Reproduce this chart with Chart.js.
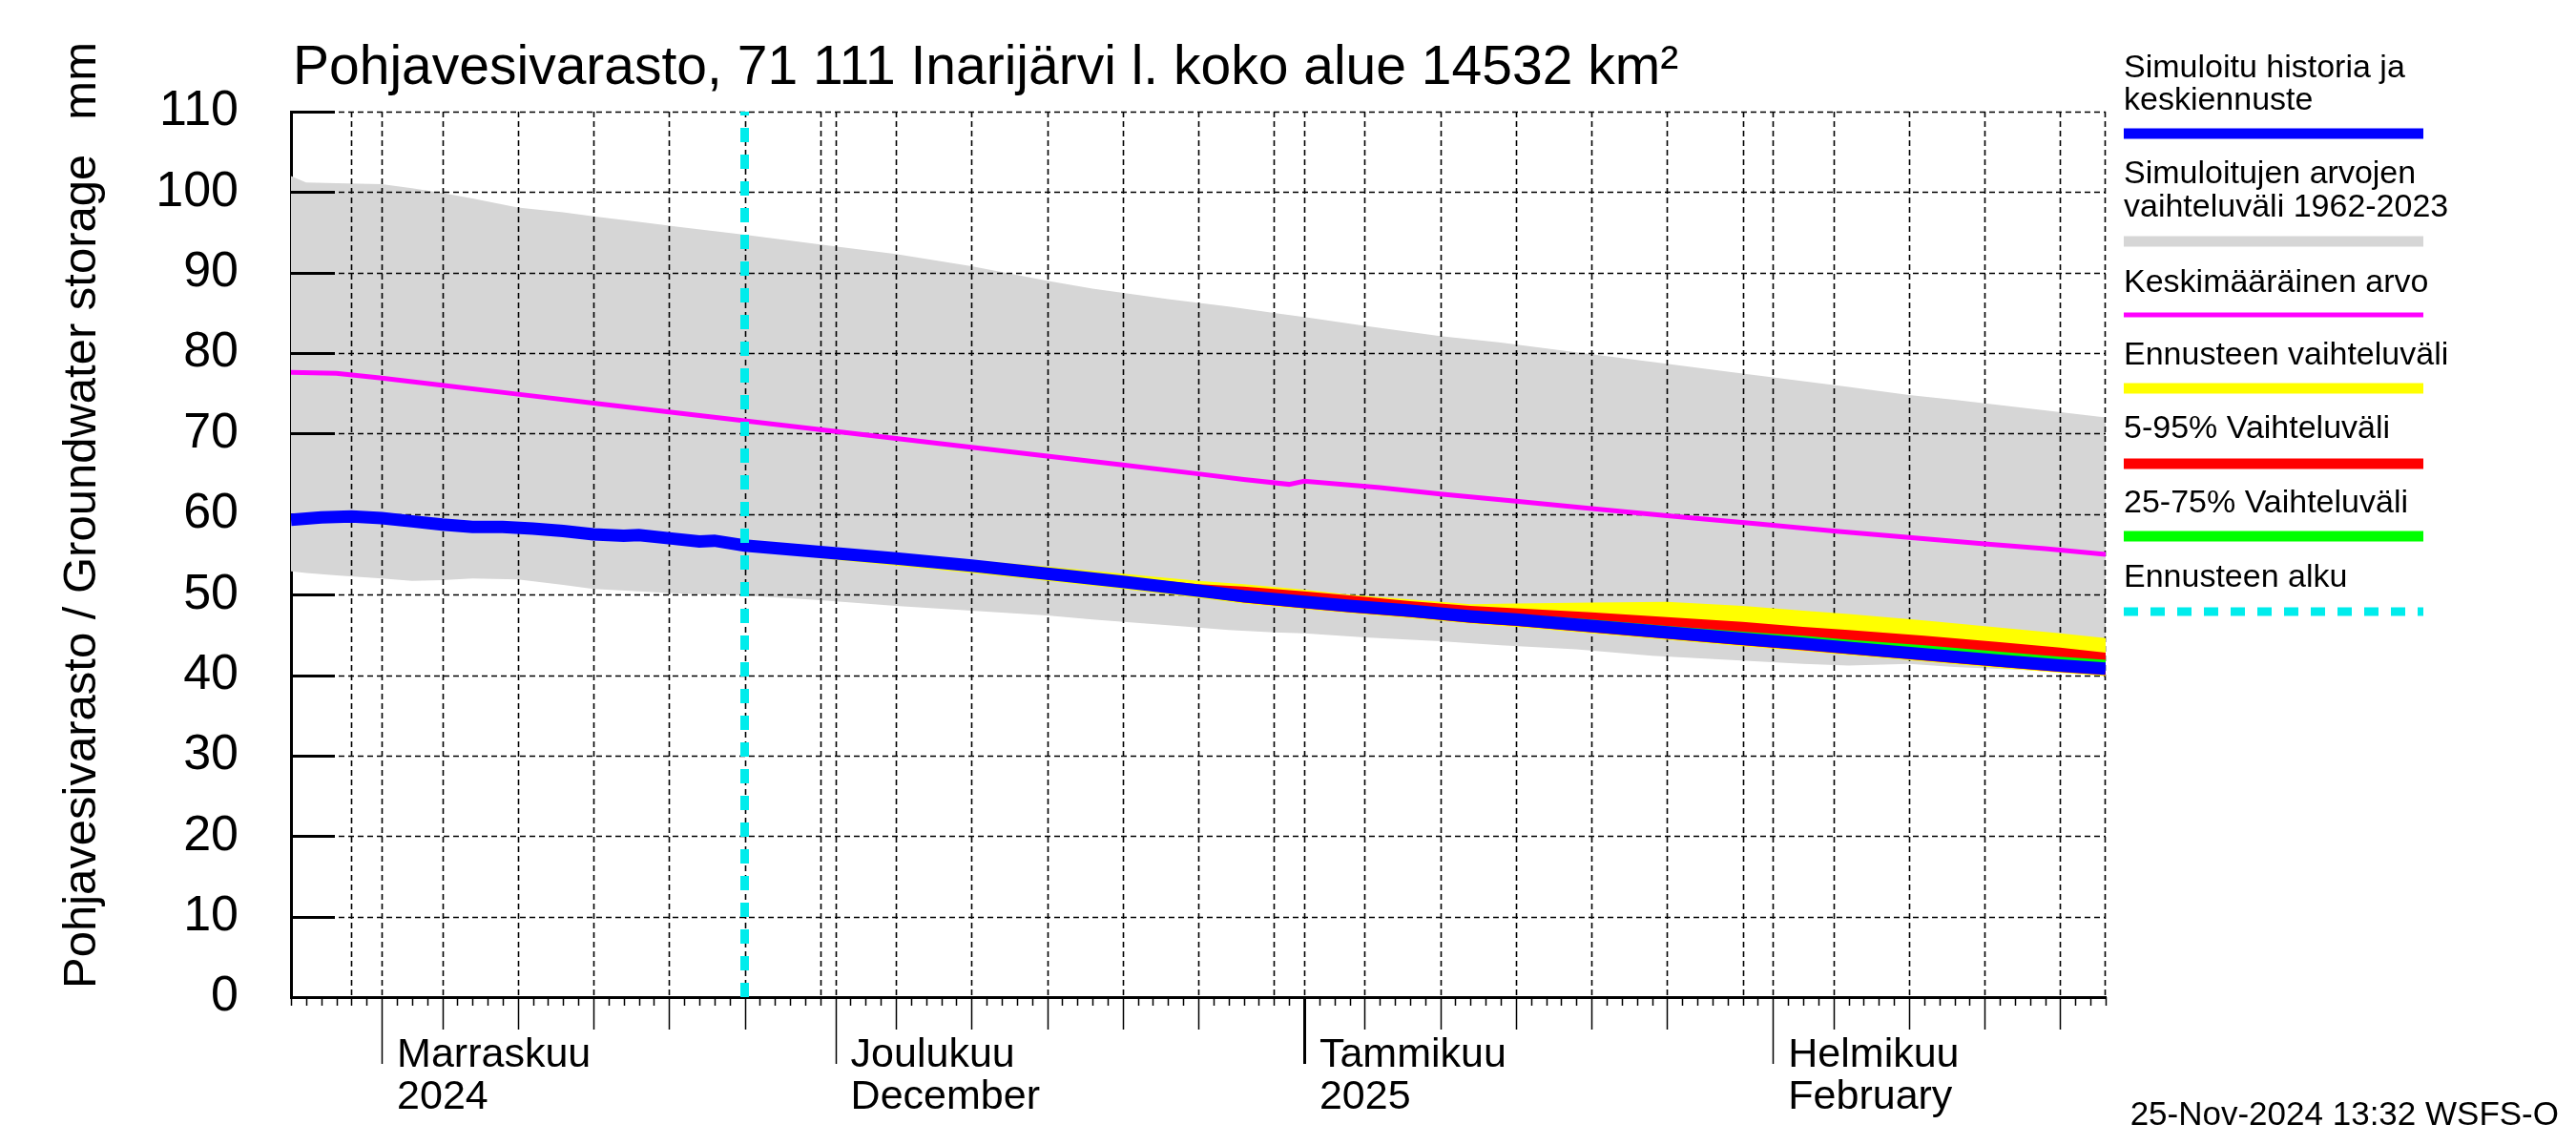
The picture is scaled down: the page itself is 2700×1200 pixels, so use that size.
<!DOCTYPE html>
<html>
<head>
<meta charset="utf-8">
<script src="https://cdn.jsdelivr.net/npm/chart.js@4.4.1/dist/chart.umd.min.js"></script>
<style>
    html, body { margin: 0; padding: 0; background: #ffffff; }
</style>
</head>
<body>
<canvas id="gwChart" width="2700" height="1200"></canvas>
<script>
// day 0 = 26 Oct 2024, day 120 = 23 Feb 2025
const forecastStart = 30;   // 25 Nov 2024
const yMin = 0;
const yMax = 110;
const dayMax = 120;

// simulated range 1962-2023 (grey band)
const rangeDays = [0, 1, 3, 6, 8, 10, 12, 15, 18, 20, 23, 26, 30, 35, 40, 45, 50, 53, 58, 62, 65, 67, 71, 76, 80, 85, 90, 95, 100, 103, 107, 110, 115, 120];
const rangeMax = [102.0, 101.2, 101.1, 101.0, 100.5, 99.9, 99.2, 98.1, 97.5, 97.0, 96.3, 95.6, 94.7, 93.5, 92.3, 90.8, 89.0, 88.0, 86.7, 85.8, 85.0, 84.5, 83.4, 82.1, 81.3, 80.1, 78.9, 77.7, 76.5, 75.8, 74.8, 74.2, 73.1, 72.0];
const rangeMin = [52.9, 52.7, 52.4, 52.0, 51.7, 51.8, 52.0, 51.9, 51.2, 50.7, 50.4, 50.1, 49.9, 49.3, 48.6, 48.0, 47.4, 46.9, 46.2, 45.6, 45.3, 45.2, 44.7, 44.2, 43.7, 43.2, 42.4, 41.9, 41.4, 41.2, 41.4, 41.0, 40.6, 40.0];

// mean value
const meanDays = [0, 3, 6, 10, 15, 20, 25, 30, 35, 40, 45, 50, 55, 60, 63, 66, 67, 72, 76, 81, 86, 91, 97, 102, 107, 112, 116, 120];
const meanValues = [77.6, 77.5, 76.9, 76.0, 74.9, 73.8, 72.7, 71.6, 70.5, 69.4, 68.3, 67.2, 66.1, 65.0, 64.3, 63.7, 64.1, 63.3, 62.5, 61.6, 60.7, 59.8, 58.8, 57.9, 57.1, 56.3, 55.7, 55.0];

// simulated history + median forecast
const simDays = [0, 2, 4, 6, 8, 10, 12, 14, 16, 18, 20, 22, 23, 25, 27, 28, 30, 35, 40, 45, 50, 55, 60, 63, 67, 70, 74, 78, 81, 86, 91, 96, 100, 103, 108, 113, 117, 120];
const simValues = [59.3, 59.6, 59.7, 59.5, 59.1, 58.7, 58.4, 58.4, 58.2, 57.9, 57.5, 57.3, 57.4, 57.0, 56.6, 56.7, 56.1, 55.3, 54.5, 53.6, 52.6, 51.6, 50.5, 49.8, 49.1, 48.6, 48.0, 47.3, 46.9, 46.1, 45.3, 44.5, 43.9, 43.4, 42.6, 41.8, 41.2, 40.8];

// forecast ranges
const fcDays = [30, 35, 40, 45, 50, 55, 60, 63, 67, 70, 74, 78, 81, 86, 91, 96, 100, 103, 108, 113, 117, 120];
const fcMax = [56.1, 55.6, 55.0, 54.3, 53.5, 52.6, 51.7, 51.3, 50.6, 50.0, 49.4, 48.8, 48.9, 49.0, 49.1, 48.6, 48.0, 47.6, 46.8, 45.9, 45.2, 44.6];
const fcMin = [56.1, 54.5, 53.6, 52.7, 51.7, 50.7, 49.6, 48.9, 48.2, 47.7, 47.1, 46.4, 46.0, 45.2, 44.4, 43.6, 43.0, 42.5, 41.7, 40.9, 40.3, 39.9];
const p95 = [56.1, 55.5, 54.8, 54.0, 53.1, 52.2, 51.3, 51.0, 50.4, 49.9, 49.2, 48.6, 48.3, 47.8, 47.2, 46.6, 46.0, 45.6, 44.9, 44.1, 43.4, 42.8];
const p5 = [56.1, 54.7, 53.8, 52.9, 51.9, 50.9, 49.8, 49.0, 48.3, 47.8, 47.2, 46.5, 46.1, 45.3, 44.5, 43.7, 43.1, 42.6, 41.8, 41.0, 40.4, 40.0];
const p75 = [56.1, 55.5, 54.8, 54.0, 53.0, 52.1, 51.0, 50.4, 49.7, 49.2, 48.6, 48.0, 47.6, 46.9, 46.1, 45.4, 44.9, 44.4, 43.7, 42.9, 42.3, 41.9];
const p25 = [56.1, 55.0, 54.2, 53.3, 52.3, 51.3, 50.2, 49.5, 48.8, 48.3, 47.7, 47.0, 46.6, 45.8, 45.0, 44.2, 43.6, 43.1, 42.3, 41.5, 40.9, 40.5];

// x axis: grid days, 5-day ticks, month starts
const gridDays = [4, 6, 10, 15, 20, 25, 30, 35, 36, 40, 45, 50, 55, 60, 65, 67, 71, 76, 81, 86, 91, 96, 98, 102, 107, 112, 117];
const fiveDayTicks = [10, 15, 20, 25, 30, 40, 45, 50, 55, 60, 71, 76, 81, 86, 91, 102, 107, 112, 117];
const monthStarts = [6, 36, 67, 98];
const yearStart = 67;
const monthLabels = [['Marraskuu', '2024'], ['Joulukuu', 'December'], ['Tammikuu', '2025'], ['Helmikuu', 'February']];

const titleText = 'Pohjavesivarasto, 71 111 Inarijärvi l. koko alue 14532 km²';
const yTitleText = 'Pohjavesivarasto / Groundwater storage';
const yUnitText = 'mm';
const footerText = '25-Nov-2024 13:32 WSFS-O';

const FONT = '"Liberation Sans", Arial, Helvetica, sans-serif';
const GREY = '#d6d6d6';
const CYAN = '#00ecec';
const NONE = 'rgba(0,0,0,0)';

const legendItems = [
    { lines: ['Simuloitu historia ja', 'keskiennuste'], color: '#0000ff', width: 11 },
    { lines: ['Simuloitujen arvojen', 'vaihteluväli 1962-2023'], color: GREY, width: 11 },
    { lines: ['Keskimääräinen arvo'], color: '#ff00ff', width: 5 },
    { lines: ['Ennusteen vaihteluväli'], color: '#ffff00', width: 11 },
    { lines: ['5-95% Vaihteluväli'], color: '#ff0000', width: 11 },
    { lines: ['25-75% Vaihteluväli'], color: '#00ff00', width: 11 },
    { lines: ['Ennusteen alku'], color: CYAN, width: 9, dash: [15, 13] }
];

function pts(days, vals) {
    return days.map((d, i) => ({ x: d, y: vals[i] }));
}

function bandUpper(label, days, vals, color, order) {
    return { label: label, data: pts(days, vals), fill: '+1', backgroundColor: color, borderColor: NONE, borderWidth: 0, order: order };
}

function bandLower(label, days, vals, order) {
    return { label: label, data: pts(days, vals), fill: false, borderColor: NONE, borderWidth: 0, order: order };
}

function line(ctx, x1, y1, x2, y2) {
    ctx.beginPath();
    ctx.moveTo(x1, y1);
    ctx.lineTo(x2, y2);
    ctx.stroke();
}

const overlay = {
    id: 'overlay',
    // grid goes on top of the grey band but under everything else
    afterDatasetDraw(chart, args) {
        if (args.index !== 0) return;
        const ctx = chart.ctx;
        const area = chart.chartArea;
        const xs = chart.scales.x;
        const ys = chart.scales.y;
        ctx.save();
        ctx.strokeStyle = '#000';
        ctx.lineWidth = 1.6;
        ctx.setLineDash([6, 4]);
        ys.ticks.forEach(t => {
            if (t.value === yMin) return;
            const y = Math.round(ys.getPixelForValue(t.value)) + 0.5;
            line(ctx, area.left, y, area.right, y);
        });
        gridDays.forEach(d => {
            const x = Math.round(xs.getPixelForValue(d)) + 0.5;
            line(ctx, x, area.top, x, area.bottom);
        });
        line(ctx, area.right - 0.5, area.top, area.right - 0.5, area.bottom);
        ctx.setLineDash([]);
        ctx.lineWidth = 3;
        ys.ticks.forEach(t => {
            const y = Math.round(ys.getPixelForValue(t.value)) + 0.5;
            line(ctx, area.left, y, area.left + 46, y);
        });
        ctx.restore();
    },
    afterDraw(chart) {
        const ctx = chart.ctx;
        const area = chart.chartArea;
        const xs = chart.scales.x;
        ctx.save();
        ctx.strokeStyle = '#000';
        ctx.fillStyle = '#000';

        // x axis ticks
        const base = area.bottom;
        for (let d = 0; d <= dayMax; d++) {
            const x = Math.round(xs.getPixelForValue(d)) + 0.5;
            let len = 9;
            ctx.lineWidth = 1.5;
            if (fiveDayTicks.includes(d)) len = 34;
            if (monthStarts.includes(d)) len = 70;
            if (d === yearStart) ctx.lineWidth = 3;
            line(ctx, x, base, x, base + len);
        }

        // month labels
        ctx.font = '43px ' + FONT;
        ctx.textAlign = 'left';
        ctx.textBaseline = 'middle';
        monthStarts.forEach((d, i) => {
            const x = xs.getPixelForValue(d) + 16;
            ctx.fillText(monthLabels[i][0], x, 1106);
            ctx.fillText(monthLabels[i][1], x, 1150);
        });

        // title
        ctx.font = '57px ' + FONT;
        ctx.textBaseline = 'alphabetic';
        ctx.fillText(titleText, 307, 88);

        // y axis title
        ctx.save();
        ctx.translate(100, 1036);
        ctx.rotate(-Math.PI / 2);
        ctx.font = '49px ' + FONT;
        ctx.textAlign = 'left';
        ctx.fillText(yTitleText, 0, 0);
        ctx.textAlign = 'right';
        ctx.fillText(yUnitText, 1036 - 44, 0);
        ctx.restore();

        // legend
        const lx = 2226;
        const bx2 = 2540;
        const textRows = [[72, 106], [183, 218], [297], [373], [450], [528], [606]];
        const barRows = [140, 253, 330, 407, 486, 562, 641];
        ctx.font = '34px ' + FONT;
        ctx.textAlign = 'left';
        ctx.textBaseline = 'middle';
        legendItems.forEach((item, i) => {
            item.lines.forEach((txt, j) => ctx.fillText(txt, lx, textRows[i][j]));
            ctx.save();
            ctx.strokeStyle = item.color;
            ctx.lineWidth = item.width;
            ctx.lineCap = 'butt';
            if (item.dash) ctx.setLineDash(item.dash);
            line(ctx, lx, barRows[i], bx2, barRows[i]);
            ctx.restore();
        });

        // footer
        ctx.font = '35px ' + FONT;
        ctx.textAlign = 'right';
        ctx.fillText(footerText, 2682, 1169);
        ctx.restore();
    }
};

const datasets = [
    bandUpper('rangeMax', rangeDays, rangeMax, GREY, 10),
    bandLower('rangeMin', rangeDays, rangeMin, 10),
    bandUpper('fcMax', fcDays, fcMax, '#ffff00', 8),
    bandLower('fcMin', fcDays, fcMin, 8),
    bandUpper('p95', fcDays, p95, '#ff0000', 6),
    bandLower('p5', fcDays, p5, 6),
    bandUpper('p75', fcDays, p75, '#00ff00', 4),
    bandLower('p25', fcDays, p25, 4),
    { label: 'mean', data: pts(meanDays, meanValues), borderColor: '#ff00ff', borderWidth: 5, fill: false, order: 3 },
    { label: 'sim', data: pts(simDays, simValues), borderColor: '#0000ff', borderWidth: 13, fill: false, order: 2 },
    { label: 'start', data: [{ x: forecastStart, y: yMin }, { x: forecastStart, y: yMax }], borderColor: CYAN, borderWidth: 9, borderDash: [15, 13], fill: false, order: 1 }
];

const gwChart = new Chart(document.getElementById('gwChart'), {
    type: 'line',
    data: { datasets: datasets },
    options: {
        responsive: false,
        devicePixelRatio: 1,
        animation: false,
        events: [],
        layout: { padding: { top: 117, right: 493, left: 0, bottom: 0 } },
        elements: { point: { radius: 0 }, line: { tension: 0, borderCapStyle: 'butt' } },
        plugins: {
            legend: { display: false },
            tooltip: { enabled: false },
            title: { display: false }
        },
        scales: {
            x: {
                type: 'linear',
                min: 0,
                max: dayMax,
                grid: { display: false, drawTicks: false },
                border: { display: true, color: '#000', width: 3 },
                ticks: { display: false },
                afterFit(scale) { scale.height = 155; }
            },
            y: {
                min: yMin,
                max: yMax,
                grid: { display: false, drawTicks: false },
                border: { display: true, color: '#000', width: 3 },
                ticks: { stepSize: 10, padding: 55, color: '#000', font: { family: FONT, size: 52 } },
                afterFit(scale) { scale.width = 305; }
            }
        }
    },
    plugins: [overlay]
});
</script>
</body>
</html>
